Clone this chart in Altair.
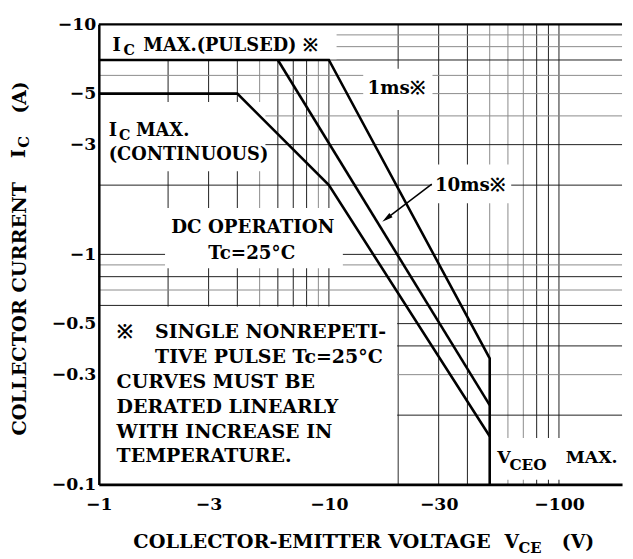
import altair as alt
import pandas as pd

FONT = "DejaVu Serif"

# ---- safe operating area curves (|VCE| in V, |IC| in A) ----
dc_v = [1, 4, 10, 50]
dc_i = [5, 5, 2, 0.162]
ms10_v = [6, 50]
ms10_i = [7, 0.221]
ms1_v = [1, 10, 50, 50]
ms1_i = [7, 7, 0.353, 0.1]

# ---- axes ----
x_ticks = [1, 3, 10, 30, 100]
y_ticks = [0.1, 0.3, 0.5, 1, 3, 5, 10]
x_grid = [2, 3, 4, 5, 6, 7, 8, 9, 10, 20, 30, 40, 50, 60, 70, 80, 90, 100]
x_grid_tone = ["k", "k", "k", "g", "k", "k", "k", "g", "k", "k", "k", "k", "g", "g", "g", "k", "k", "k"]
y_grid = [0.2, 0.3, 0.4, 0.5, 0.6, 0.7, 0.8, 0.9, 1, 2, 3, 4, 5, 6, 7, 8, 9]
y_grid_tone = ["k", "g", "k", "k", "k", "g", "k", "g", "k", "k", "k", "g", "g", "g", "k", "g", "g"]

W, H = 530, 466
xs = alt.Scale(type="log", domain=[1, 188], nice=False)
ys = alt.Scale(type="log", domain=[0.1, 10], nice=False)

curves = pd.DataFrame(
    [{"V": v, "I": i, "s": "DC", "o": k} for k, (v, i) in enumerate(zip(dc_v, dc_i))]
    + [{"V": v, "I": i, "s": "10ms", "o": k} for k, (v, i) in enumerate(zip(ms10_v, ms10_i))]
    + [{"V": v, "I": i, "s": "1ms", "o": k} for k, (v, i) in enumerate(zip(ms1_v, ms1_i))]
)

tone_color = alt.Scale(domain=["k", "g"], range=["#1e1e1e", "#8a8a8a"])

X = lambda f="V": alt.X(f"{f}:Q", scale=xs)
Y = lambda f="I": alt.Y(f"{f}:Q", scale=ys)

vgrid = alt.Chart(pd.DataFrame({"V": x_grid, "t": x_grid_tone})).mark_rule(strokeWidth=1).encode(
    x=X(), y=alt.value(0), y2=alt.value(H),
    color=alt.Color("t:N", scale=tone_color, legend=None),
)
hgrid = alt.Chart(pd.DataFrame({"I": y_grid, "t": y_grid_tone})).mark_rule(strokeWidth=1).encode(
    y=Y(), x=alt.value(0), x2=alt.value(W),
    color=alt.Color("t:N", scale=tone_color, legend=None),
)

boxes = pd.DataFrame({
    "V": [1, 14.1, 28.0, 1, 1.94, 1, 51.1],
    "V2": [10.8, 28.2, 62.0, 5.3, 11.5, 19.8, 188],
    "I": [7.05, 4.24, 1.67, 2.3, 0.87, 0.1, 0.1048],
    "I2": [10, 6.41, 2.46, 4.6, 1.59, 0.594, 0.159],
})
white = alt.Chart(boxes).mark_rect(color="white").encode(
    x=X(), x2="V2:Q", y=Y(), y2="I2:Q",
)

top_border = alt.Chart(pd.DataFrame({"I": [10]})).mark_rule(strokeWidth=2.5, color="black").encode(
    y=Y(), x=alt.value(0), x2=alt.value(W)
)

lines = alt.Chart(curves).mark_line(color="black", strokeWidth=2.6, strokeJoin="miter").encode(
    x=alt.X("V:Q", scale=xs, axis=alt.Axis(
        values=x_ticks, labelExpr="'−' + datum.value", grid=False, ticks=False,
        domainColor="black", domainWidth=3, labelFont=FONT, labelFontSize=17.5,
        labelFontWeight="bold", labelColor="black", labelPadding=11, labelFlush=False,
        labelOverlap=False, title=None, zindex=2)),
    y=alt.Y("I:Q", scale=ys, axis=alt.Axis(
        values=y_ticks, labelExpr="'−' + datum.value", grid=False, ticks=False,
        domainColor="black", domainWidth=2.5, labelFont=FONT, labelFontSize=17.5,
        labelFontWeight="bold", labelColor="black", labelPadding=3, labelFlush=False,
        labelOverlap=False, title=None, zindex=2)),
    detail="s:N",
    order="o:Q",
)


def txt(rows, size, align="left"):
    df = pd.DataFrame(rows, columns=["t", "V", "I"])
    return alt.Chart(df).mark_text(font=FONT, fontSize=size, fontWeight="bold", align=align,
                                   baseline="middle", color="black").encode(
        x=X(), y=Y(), text="t:N",
    )


main_labels = txt([
    ["I", 1.148, 8.05],
    ["MAX.(PULSED) ※", 1.56, 8.05],
    ["I", 1.104, 3.44],
    ["MAX.", 1.45, 3.44],
    ["(CONTINUOUS)", 1.104, 2.69],
], 18)
subs = txt([
    ["C", 1.28, 7.62],
    ["C", 1.225, 3.26],
], 14.5)
center_labels = txt([
    ["1ms※", 19.6, 5.26],
    ["10ms※", 41.0, 2.0],
    ["DC OPERATION", 4.67, 1.31],
    ["Tc=25°C", 4.62, 1.01],
], 18.5, align="center")
note = txt([
    ["※", 1.195, 0.458],
    ["SINGLE NONREPETI-", 1.756, 0.458],
    ["TIVE PULSE Tc=25°C", 1.756, 0.357],
    ["CURVES MUST BE", 1.195, 0.279],
    ["DERATED LINEARLY", 1.195, 0.216],
    ["WITH INCREASE IN", 1.195, 0.169],
    ["TEMPERATURE.", 1.195, 0.1323],
], 19.2)
vceo = txt([["V", 53.9, 0.1297], ["MAX.", 106.9, 0.1297]], 17.5)
vceo_sub = txt([["CEO", 60.9, 0.1213]], 15.5)

arrow_line = alt.Chart(pd.DataFrame({"V": [28.0, 17.6], "I": [2.02, 1.42], "o": [0, 1]})).mark_line(
    color="black", strokeWidth=1.5).encode(x=X(), y=Y(), order="o:Q")
arrow_head = alt.Chart(pd.DataFrame({"V": [17.93], "I": [1.44]})).mark_point(
    shape="M0,-1L0.42,0.75L-0.42,0.75Z", filled=True, color="black", size=160, angle=233,
    opacity=1).encode(x=X(), y=Y())

one = pd.DataFrame({"k": [0]})


def ptxt(text, px, py, size, angle=0, align="left"):
    return alt.Chart(one).mark_text(font=FONT, fontSize=size, fontWeight="bold", align=align,
                                    baseline="middle", angle=angle, color="black", text=text).encode(
        x=alt.value(px), y=alt.value(py))


titles = [
    ptxt("COLLECTOR-EMITTER VOLTAGE", 35, 524, 19.5),
    ptxt("V", 411, 524, 19),
    ptxt("CE", 425, 530, 15),
    ptxt("(V)", 469, 524, 19),
    ptxt("COLLECTOR CURRENT", -80, 288, 19.5, angle=270, align="center"),
    ptxt("I", -81, 131, 19, angle=270, align="center"),
    ptxt("C", -76, 119, 15, angle=270, align="center"),
    ptxt("(A)", -80, 74, 19, angle=270, align="center"),
]

chart = alt.layer(
    vgrid, hgrid, white, top_border, lines, main_labels, subs, center_labels, note,
    vceo, vceo_sub, arrow_line, arrow_head, *titles,
).resolve_scale(color="independent").properties(
    width=W, height=H,
    autosize=alt.AutoSizeParams(type="none"),
    padding={"left": 92, "top": 13, "right": 3, "bottom": 72},
).configure_view(strokeWidth=0)

chart.save("out.html", embed_options={"renderer": "svg", "actions": False})
